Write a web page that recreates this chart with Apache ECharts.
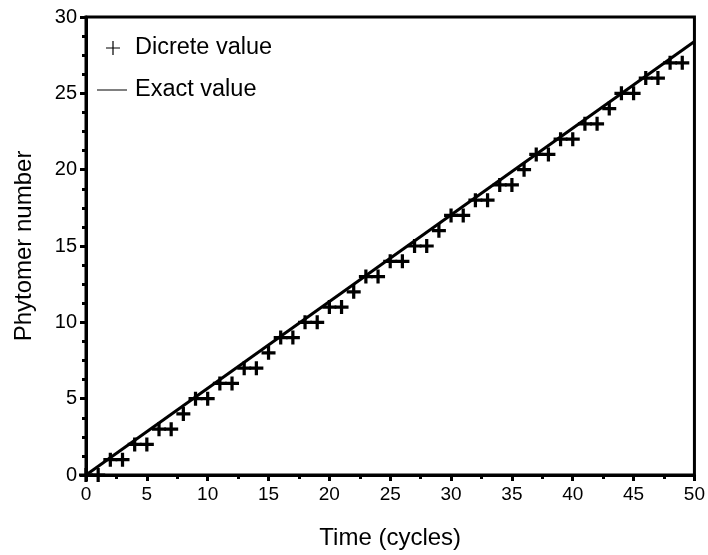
<!DOCTYPE html>
<html>
<head>
<meta charset="utf-8">
<script src="https://cdn.jsdelivr.net/npm/echarts@6/dist/echarts.min.js"></script>
<style>
html,body{margin:0;padding:0;background:#fff;}
#chart{width:708px;height:555px;}
</style>
</head>
<body>
<div id="chart"></div>
<script>
// Time (cycles) of each discrete observation
var cycles = [0,1,2,3,4,5,6,7,8,9,10,11,12,13,14,15,16,17,18,19,20,21,22,23,24,25,26,27,28,29,30,31,32,33,34,35,36,37,38,39,40,41,42,43,44,45,46,47,48,49];
// Discrete phytomer number read at each cycle
var discreteValues = [0,0,1,1,2,2,3,3,4,5,5,6,6,7,7,8,9,9,10,10,11,11,12,13,13,14,14,15,15,16,17,17,18,18,19,19,20,21,21,22,22,23,23,24,25,25,26,26,27,27];
// Exact (continuous) value: end points of the straight line
var exactTimes = [0, 50];
var exactValues = [0, 28.4];
var xTicks = [0,5,10,15,20,25,30,35,40,45,50];
var yTicks = [0,5,10,15,20,25,30];

var font = 'Liberation Sans, Arial, sans-serif';
var plusThick = 'path://M5,0H8V5H13V8H8V13H5V8H0V5H5Z';
var plusThin = 'path://M6.4,0H7.6V6.4H14V7.6H7.6V14H6.4V7.6H0V6.4H6.4Z';
var lineIcon = 'path://M0,0H30V1H0Z';

var chart = echarts.init(document.getElementById('chart'), null, {renderer:'canvas'});
chart.setOption({
  animation: false,
  backgroundColor: '#fff',
  grid: {left: 86, right: 13, top: 17, bottom: 67, show: true, borderColor: '#000', borderWidth: 3, containLabel: false},
  legend: [
    {data: [{name: 'Dicrete value', icon: plusThin}], left: 101, top: 31, itemWidth: 14, itemHeight: 14,
     textStyle: {fontFamily: font, fontSize: 23.5, color: '#000', padding: [0,0,0,10]}, selectedMode: false},
    {data: [{name: 'Exact value', icon: lineIcon}], left: 92, top: 73, itemWidth: 30, itemHeight: 1.5,
     itemStyle: {color: '#000'},
     textStyle: {fontFamily: font, fontSize: 23.5, color: '#000', padding: [0,0,0,3]}, selectedMode: false}
  ],
  xAxis: {
    type: 'value', min: xTicks[0], max: xTicks[xTicks.length-1], interval: 5,
    name: 'Time (cycles)', nameLocation: 'middle', nameGap: 51,
    nameTextStyle: {fontFamily: font, fontSize: 24, color: '#000'},
    axisLine: {show: true, onZero: false, lineStyle: {color: '#000', width: 3}},
    axisTick: {show: true, inside: false, length: 6, lineStyle: {color: '#000', width: 3}},
    minorTick: {show: true, splitNumber: 2, length: 4, lineStyle: {color: '#000', width: 3}},
    axisLabel: {fontFamily: font, fontSize: 19, color: '#000', margin: 10},
    splitLine: {show: false}
  },
  yAxis: {
    type: 'value', min: yTicks[0], max: yTicks[yTicks.length-1], interval: 5,
    name: 'Phytomer number', nameLocation: 'middle', nameGap: 50,
    nameTextStyle: {fontFamily: font, fontSize: 24, color: '#000'},
    axisLine: {show: true, onZero: false, lineStyle: {color: '#000', width: 3}},
    axisTick: {show: true, inside: false, length: 6, lineStyle: {color: '#000', width: 3}},
    minorTick: {show: true, splitNumber: 4, length: 4, lineStyle: {color: '#000', width: 3}},
    axisLabel: {fontFamily: font, fontSize: 20, color: '#000', margin: 9},
    splitLine: {show: false}
  },
  series: [
    {
      name: 'Dicrete value', type: 'scatter',
      data: cycles.map(function(t, i){ return [t, discreteValues[i]]; }),
      symbol: plusThick, symbolSize: 14,
      itemStyle: {color: '#000', opacity: 1},
      clip: true, z: 3
    },
    {
      name: 'Exact value', type: 'line',
      data: exactTimes.map(function(t, i){ return [t, exactValues[i]]; }),
      showSymbol: false, symbol: 'none',
      lineStyle: {color: '#000', width: 3},
      itemStyle: {color: '#000'},
      z: 4
    }
  ]
});
</script>
</body>
</html>
